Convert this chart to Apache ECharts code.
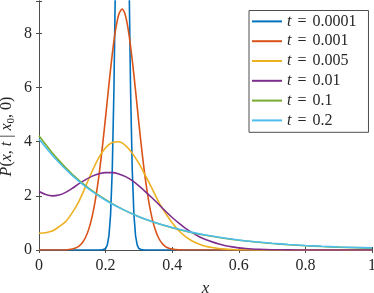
<!DOCTYPE html>
<html>
<head>
<meta charset="utf-8">
<script src="https://cdn.jsdelivr.net/npm/echarts@6/dist/echarts.min.js"></script>
<style>
html,body{margin:0;padding:0;background:#fff;}
#chart{width:374px;height:293px;}
</style>
</head>
<body>
<div id="chart"></div>
<script>
// ---- data ----
const tLabels = ['0.0001', '0.001', '0.005', '0.01', '0.1', '0.2'];
const xTicks = [0, 0.2, 0.4, 0.6, 0.8, 1];
const yTicks = [0, 2, 4, 6, 8];

const xA = [0, 0.18, 0.19, 0.195, 0.2, 0.205, 0.21, 0.215, 0.22, 0.225, 0.23, 0.235, 0.24, 0.245, 0.25,
            0.255, 0.26, 0.265, 0.27, 0.275, 0.28, 0.285, 0.29, 0.295, 0.3, 0.305, 0.31, 0.32, 1];
const yA = [0, 0, 0.0035, 0.015, 0.054, 0.18, 0.52, 1.32, 2.97, 5.91, 10.4, 16.1, 21.96, 26.5, 28.2,
            26.5, 21.96, 16.1, 10.4, 5.91, 2.97, 1.32, 0.52, 0.18, 0.054, 0.015, 0.0035, 0, 0];

const xB = [0, 0.08, 0.09, 0.1, 0.11, 0.12, 0.13, 0.14, 0.15, 0.16, 0.17, 0.18, 0.19, 0.2, 0.21, 0.22, 0.23, 0.24, 0.25,
            0.26, 0.27, 0.28, 0.29, 0.3, 0.31, 0.32, 0.33, 0.34, 0.35, 0.36, 0.37, 0.38, 0.39, 0.4, 0.42, 0.45, 1];
const yB = [0, 0.006, 0.017, 0.037, 0.075, 0.146, 0.27, 0.47, 0.79, 1.26, 1.91, 2.75, 3.77, 4.92, 6.11, 7.23, 8.14, 8.72, 8.9,
            8.64, 7.98, 7.02, 5.88, 4.68, 3.55, 2.56, 1.76, 1.15, 0.72, 0.425, 0.24, 0.128, 0.066, 0.032, 0.006, 0, 0];

const xC = [0, 0.02, 0.04, 0.06, 0.08, 0.1, 0.12, 0.14, 0.16, 0.18, 0.2, 0.22, 0.24, 0.26, 0.28, 0.3, 0.32, 0.34, 0.36,
            0.38, 0.4, 0.42, 0.44, 0.46, 0.48, 0.5, 0.52, 0.54, 0.56, 0.58, 0.6, 0.65, 0.7, 1];
const yC = [0.62, 0.64, 0.70, 0.86, 1.05, 1.38, 1.8, 2.35, 2.92, 3.42, 3.78, 3.97, 4.0, 3.86, 3.58, 3.2, 2.74, 2.26, 1.76,
            1.36, 1.01, 0.71, 0.49, 0.33, 0.22, 0.14, 0.09, 0.055, 0.033, 0.02, 0.012, 0.003, 0, 0];

const xD = [0, 0.02, 0.04, 0.06, 0.08, 0.1, 0.12, 0.14, 0.16, 0.18, 0.2, 0.22, 0.24, 0.26, 0.28, 0.3, 0.32, 0.34, 0.36,
            0.38, 0.4, 0.42, 0.44, 0.46, 0.48, 0.5, 0.52, 0.54, 0.56, 0.58, 0.6, 0.62, 0.64, 0.66, 0.7, 0.75, 0.8, 1];
const yD = [2.16, 2.05, 2.0, 2.03, 2.13, 2.28, 2.45, 2.6, 2.73, 2.82, 2.86, 2.86, 2.81, 2.71, 2.56, 2.37, 2.15, 1.92, 1.68,
            1.43, 1.2, 0.99, 0.8, 0.64, 0.5, 0.39, 0.3, 0.22, 0.16, 0.115, 0.08, 0.055, 0.037, 0.025, 0.011, 0.004, 0.001, 0];

const xE = [0, 0.05, 0.1, 0.15, 0.2, 0.25, 0.3, 0.35, 0.4, 0.45, 0.5, 0.55, 0.6, 0.65, 0.7, 0.75, 0.8, 0.85, 0.9, 0.95, 1];
const yE = [4.22, 3.44, 2.80, 2.28, 1.86, 1.51, 1.23, 1.005, 0.82, 0.667, 0.543, 0.443, 0.36, 0.294, 0.239, 0.195, 0.159, 0.129, 0.105, 0.086, 0.07];

const xF = [0, 0.05, 0.1, 0.15, 0.2, 0.25, 0.3, 0.35, 0.4, 0.45, 0.5, 0.55, 0.6, 0.65, 0.7, 0.75, 0.8, 0.85, 0.9, 0.95, 1];
const yF = [4.10, 3.36, 2.75, 2.25, 1.84, 1.51, 1.23, 1.01, 0.83, 0.68, 0.555, 0.454, 0.372, 0.305, 0.249, 0.204, 0.167, 0.137, 0.112, 0.093, 0.08];

const colors = ['#0072BD', '#D95319', '#EDB120', '#7E2F8E', '#77AC30', '#4DBEEE'];
const xsAll = [xA, xB, xC, xD, xE, xF];
const ysAll = [yA, yB, yC, yD, yE, yF];
const smoothAll = [false, 0.3, 0.3, 0.3, 0.3, 0.3];

// ---- chart ----
const FONT = "'Liberation Serif', 'Times New Roman', 'DejaVu Serif', serif";
const axisColor = '#4d4d4d';
const textColor = '#262626';
const chart = echarts.init(document.getElementById('chart'), null, {renderer: 'canvas'});

const series = tLabels.map((t, i) => ({
  name: 't = ' + t,
  type: 'line',
  data: xsAll[i].map((x, j) => [x, ysAll[i][j]]),
  showSymbol: false,
  symbol: 'none',
  smooth: smoothAll[i],
  lineStyle: {color: colors[i], width: 1.6},
  itemStyle: {color: colors[i]},
  clip: true,
  animation: false,
  z: 2 + i
}));

const baseAxis = {
  axisLine: {show: true, lineStyle: {color: axisColor, width: 1}},
  axisTick: {show: true, inside: true, length: 3, lineStyle: {color: axisColor}},
  splitLine: {show: false}
};

chart.setOption({
  animation: false,
  backgroundColor: '#fff',
  textStyle: {fontFamily: FONT},
  grid: {left: 39, right: 2, top: 1, bottom: 43, containLabel: false, outerBoundsMode: 'none'},
  legend: {
    orient: 'vertical',
    left: 249,
    top: 10.5,
    icon: 'rect',
    itemWidth: 30,
    itemHeight: 2,
    itemGap: 0,
    padding: [1, 12, 2, 3],
    borderColor: axisColor,
    borderWidth: 1,
    backgroundColor: '#fff',
    data: series.map(s => s.name),
    formatter: name => '{i|t}{e| = }' + name.slice(4),
    textStyle: {
      fontFamily: FONT, fontSize: 16, color: textColor, lineHeight: 19.8,
      rich: {
        i: {fontStyle: 'italic', fontFamily: FONT, fontSize: 16, lineHeight: 19.8},
        e: {fontFamily: FONT, fontSize: 16, lineHeight: 19.8, padding: [0, 2, 0, 2]}
      }
    }
  },
  xAxis: [
    Object.assign({}, baseAxis, {
      type: 'value', position: 'bottom', min: 0, max: 1, interval: 0.2,
      name: 'x', nameLocation: 'middle', nameGap: 30, nameMoveOverlap: false,
      nameTextStyle: {fontFamily: FONT, fontStyle: 'italic', fontSize: 17, color: textColor},
      axisLabel: {
        fontFamily: FONT, fontSize: 16, color: textColor, margin: 8,
        formatter: v => {
          const k = xTicks.findIndex(t => Math.abs(t - v) < 1e-9);
          return k >= 0 ? String(xTicks[k]) : '';
        }
      }
    }),
    Object.assign({}, baseAxis, {
      type: 'value', position: 'top', min: 0, max: 1, interval: 0.2,
      axisLabel: {show: false}
    })
  ],
  yAxis: [
    Object.assign({}, baseAxis, {
      type: 'value', position: 'left', min: 0, max: 9.2, interval: 2,
      name: '{i|P}({i|x}, {i|t} | {i|x}{s|0}, 0)',
      nameLocation: 'middle', nameRotate: 90, nameGap: 22, nameMoveOverlap: false,
      nameTextStyle: {
        fontFamily: FONT, fontSize: 16, color: textColor, lineHeight: 20,
        padding: [0, 22, 0, 0],
        rich: {
          i: {fontFamily: FONT, fontStyle: 'italic', fontSize: 16, lineHeight: 20, color: textColor},
          s: {fontFamily: FONT, fontSize: 11, lineHeight: 11, verticalAlign: 'bottom', color: textColor}
        }
      },
      axisLabel: {
        fontFamily: FONT, fontSize: 16, color: textColor, margin: 7,
        formatter: v => {
          const k = yTicks.findIndex(t => Math.abs(t - v) < 1e-9);
          return k >= 0 ? String(yTicks[k]) : '';
        }
      }
    }),
    Object.assign({}, baseAxis, {
      type: 'value', position: 'right', min: 0, max: 9.2, interval: 2,
      axisLabel: {show: false}
    })
  ],
  series: series
});
</script>
</body>
</html>
